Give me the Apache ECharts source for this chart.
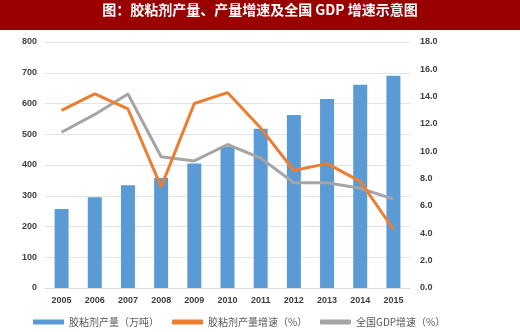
<!DOCTYPE html>
<html><head><meta charset="utf-8">
<script src="https://cdn.jsdelivr.net/npm/echarts@6/dist/echarts.min.js"></script>
<style>html,body{margin:0;padding:0;background:#fff}#c{width:520px;height:332px}</style>
</head><body><div id="c"></div>
<script>
var categories = ['2005','2006','2007','2008','2009','2010','2011','2012','2013','2014','2015'];
var output = [257, 295, 334, 358, 405, 460, 518, 563, 615, 661, 690];
var outputGrowth = [13.0, 14.2, 13.1, 7.4, 13.5, 14.3, 11.7, 8.6, 9.1, 7.8, 4.3];
var gdpGrowth = [11.4, 12.7, 14.2, 9.6, 9.3, 10.5, 9.5, 7.7, 7.7, 7.3, 6.5];
var leftTicks = [0, 800, 100];
var rightTicks = [0, 18, 2];
var names = ['胶粘剂产量（万吨）', '胶粘剂产量增速（%）', '全国GDP增速（%）'];
var titleText = '图：胶粘剂产量、产量增速及全国 GDP 增速示意图';

var chart = echarts.init(document.getElementById('c'), null, {renderer: 'canvas'});
var cjk = '"Noto Sans CJK SC", "Liberation Sans", sans-serif';
var lab = {fontSize: 9, fontWeight: 'bold', color: '#404040', fontFamily: '"Liberation Sans", Arial, sans-serif'};
function legend(name, left, icon) {
  return {
    data: [{name: name, icon: icon}], left: left, top: 317, itemWidth: 31, itemHeight: 5,
    itemGap: 0, padding: 0,
    textStyle: {fontSize: 10, color: '#595959', fontFamily: cjk, padding: [0, 0, 0, 0]}
  };
}
chart.setOption({
  animation: false,
  graphic: [{type: 'rect', shape: {x: 0, y: 0, width: 520, height: 30}, style: {fill: '#990000'}, z: 0}],
  title: {text: titleText, left: 'center', top: 3, padding: 0,
    textStyle: {color: '#fff', fontSize: 14, fontWeight: 'bold', fontFamily: cjk}},
  legend: [legend(names[0], 33, 'rect'), legend(names[1], 172, 'roundRect'), legend(names[2], 320, 'roundRect')],
  grid: {left: 45, right: 110, top: 42, bottom: 44, containLabel: false},
  xAxis: {type: 'category', data: categories,
    axisLine: {lineStyle: {color: '#d9d9d9'}}, axisTick: {show: false},
    axisLabel: Object.assign({margin: 8}, lab)},
  yAxis: [
    {type: 'value', min: leftTicks[0], max: leftTicks[1], interval: leftTicks[2],
      axisLabel: Object.assign({margin: 8}, lab),
      splitLine: {lineStyle: {color: '#e3e3e3'}}, axisLine: {show: false}, axisTick: {show: false}},
    {type: 'value', min: rightTicks[0], max: rightTicks[1], interval: rightTicks[2],
      axisLabel: Object.assign({margin: 10, formatter: function (v) { return v.toFixed(1); }}, lab),
      splitLine: {show: false}, axisLine: {show: false}, axisTick: {show: false}}
  ],
  series: [
    {name: names[0], type: 'bar', data: output, barWidth: 14, itemStyle: {color: '#5B9BD5'}},
    {name: names[1], type: 'line', yAxisIndex: 1, data: outputGrowth, symbol: 'none',
      lineStyle: {color: '#ED7D31', width: 3}, itemStyle: {color: '#ED7D31'}, z: 3},
    {name: names[2], type: 'line', yAxisIndex: 1, data: gdpGrowth, symbol: 'none',
      lineStyle: {color: '#A5A5A5', width: 3}, itemStyle: {color: '#A5A5A5'}, z: 2}
  ]
});
</script></body></html>
